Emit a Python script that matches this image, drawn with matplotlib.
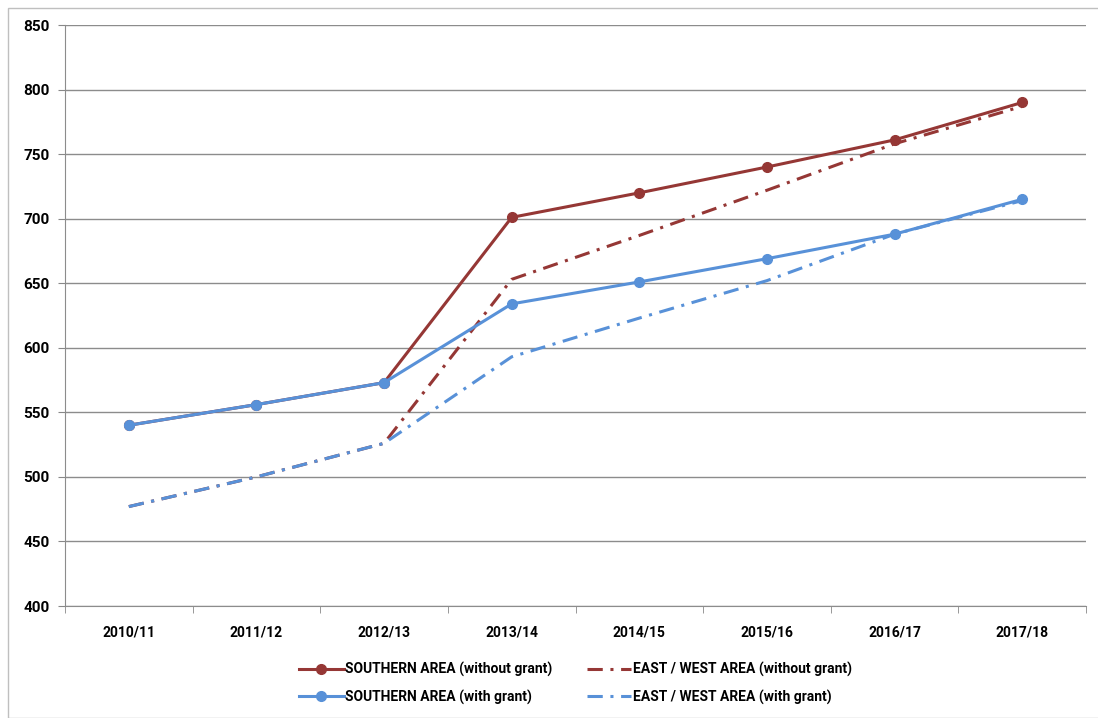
import numpy as np
import matplotlib.pyplot as plt
from matplotlib.patches import Rectangle

years = ['2010/11', '2011/12', '2012/13', '2013/14', '2014/15', '2015/16', '2016/17', '2017/18']
southern_without = [540, 556, 573, 701, 720, 740, 761, 790]
eastwest_without = [477, 500, 526, 653, 687, 722, 758, 787]
southern_with = [540, 556, 573, 634, 651, 669, 688, 715]
eastwest_with = [477, 500, 526, 593, 623, 652, 688, 714]

RED = '#953735'
BLUE = '#5891D8'

plt.rcParams['font.family'] = ['Roboto', 'DejaVu Sans']
plt.rcParams['font.weight'] = 'bold'

fig = plt.figure(figsize=(10.98, 7.18), dpi=100)
ax = fig.add_axes([65/1098, 1-606/718, (1086-65)/1098, (606-25)/718])

x = np.arange(len(years))
dd = (5, 2.5, 1, 2.5)
l1, = ax.plot(x, southern_without, color=RED, lw=2.2, marker='o', ms=7,
              label='SOUTHERN AREA (without grant)', zorder=4)
l2, = ax.plot(x, eastwest_without, color=RED, lw=2.2, dashes=dd,
              label='EAST / WEST AREA (without grant)', zorder=3)
l3, = ax.plot(x, southern_with, color=BLUE, lw=2.2, marker='o', ms=7,
              label='SOUTHERN AREA (with grant)', zorder=4)
l4, = ax.plot(x, eastwest_with, color=BLUE, lw=2.2, dashes=dd,
              label='EAST / WEST AREA (with grant)', zorder=3)

ax.set_xlim(-0.5, len(years) - 0.5)
ax.set_ylim(400, 850)
ax.set_yticks(np.arange(400, 851, 50))
ax.set_yticklabels([str(v) for v in range(400, 851, 50)], fontsize=11, fontweight='bold')
ax.set_xticks(x)
ax.set_xticklabels(years, fontsize=10, fontweight='bold')
ax.set_xticks(np.arange(-0.5, len(years)), minor=True)
ax.tick_params(axis='x', which='major', length=0, pad=14)
ax.tick_params(axis='x', which='minor', length=5, color='#888888')
ax.tick_params(axis='y', length=5, color='#888888', pad=6)

ax.grid(axis='y', color='#8c8c8c', lw=1)
ax.set_axisbelow(True)
for s in ['top', 'right']:
    ax.spines[s].set_visible(False)
for s in ['left', 'bottom']:
    ax.spines[s].set_color('#8c8c8c')

ax.legend([l1, l3, l2, l4], [l.get_label() for l in (l1, l3, l2, l4)],
          loc='upper center', bbox_to_anchor=(0.5, -0.075), ncol=2, frameon=False,
          prop={'weight': 'bold', 'size': 10}, handlelength=3.2,
          handletextpad=0.1, columnspacing=2.5, labelspacing=0.9)

fig.patches.append(Rectangle((8/1098, 0), 1, 1 - 8/718, transform=fig.transFigure,
                             fill=False, edgecolor='#bfbfbf', lw=1))

fig.savefig('out.png', dpi=100)
